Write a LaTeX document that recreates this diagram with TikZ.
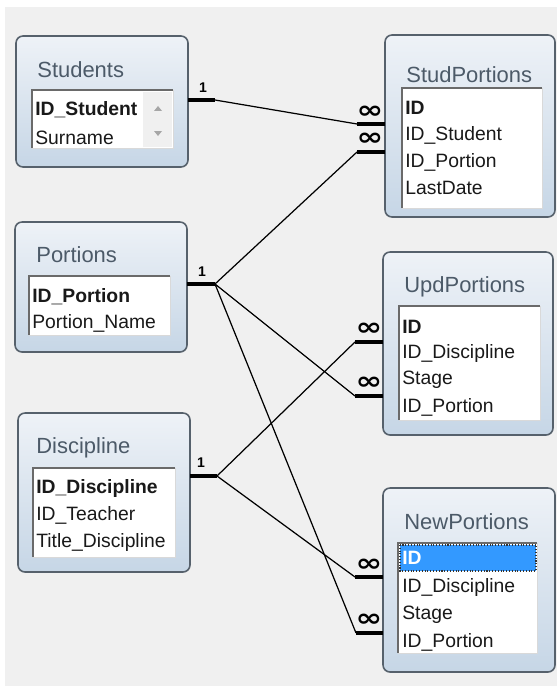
\documentclass[tikz,border=0pt]{standalone}
\usepackage{fontspec}
\setmainfont{Liberation Sans}
\newfontfamily\symfont{DejaVu Sans}
\definecolor{canvasgray}{HTML}{F0F0F0}
\definecolor{boxedge}{HTML}{56616C}
\definecolor{boxtop}{HTML}{EEF2F7}
\definecolor{boxbottom}{HTML}{C6D6E6}
\definecolor{titlegray}{HTML}{4C5A68}
\definecolor{listedge}{HTML}{6A6A6A}
\definecolor{selblue}{HTML}{3399FF}
\tikzset{
  tablebox/.style={draw=boxedge, line width=0.9pt, rounded corners=4pt, top color=boxtop, bottom color=boxbottom},
  listbox/.style={fill=white, draw=none},
  listrim/.style={draw=listedge, line width=1.2pt},
  title/.style={anchor=west, inner sep=0pt, text=titlegray, font=\fontsize{12.5}{14}\selectfont},
  field/.style={anchor=west, inner sep=0pt, text=black!90, font=\fontsize{11}{13}\selectfont},
  keyfield/.style={field, font=\fontsize{11}{13}\selectfont\bfseries},
  stub/.style={line width=2.4pt},
  link/.style={line width=0.7pt},
  one/.style={inner sep=0pt, font=\fontsize{8}{8}\selectfont\bfseries},
  many/.style={inner sep=0pt, xscale=1.3, font=\symfont\fontsize{14}{14}\selectfont\bfseries}
}
\begin{document}
\begin{tikzpicture}[x=0.02cm,y=-0.02cm]
\useasboundingbox (0,0) rectangle (557,686);
\fill[white] (0,0) rectangle (557,686);
\fill[canvasgray] (5,7) rectangle (557,686);
% Students
\draw[tablebox] (16,36) rectangle (188,167);
\node[title] (stu-title) at (37,70) {Students};
\fill[listbox] (32,90) rectangle (173,148);
\fill[gray!12] (143,92) rectangle (172,147);
\draw[listrim] (32,148) -- (32,90) -- (173,90);
\draw[gray!30] (173,90) -- (173,148) -- (32,148);
\node[keyfield] (stu-id) at (35,110) {ID\_Student};
\node[field] (stu-sur) at (35,138) {Surname};
\fill[gray!70] (154,111) -- (162,111) -- (158,106) -- cycle;
\fill[gray!70] (154,131) -- (162,131) -- (158,136) -- cycle;
% Portions
\draw[tablebox] (15,222) rectangle (187,352);
\node[title] (por-title) at (36,255) {Portions};
\fill[listbox] (29,276) rectangle (170,335);
\draw[listrim] (29,335) -- (29,276) -- (170,276);
\draw[gray!30] (170,276) -- (170,335) -- (29,335);
\node[keyfield] (por-id) at (32,297) {ID\_Portion};
\node[field] (por-name) at (32,323) {Portion\_Name};
% Discipline
\draw[tablebox] (18,413) rectangle (190,572);
\node[title] (dis-title) at (36,448) {Discipline};
\fill[listbox] (33,468) rectangle (175,557);
\draw[listrim] (33,557) -- (33,468) -- (175,468);
\draw[gray!30] (175,468) -- (175,557) -- (33,557);
\node[keyfield] (dis-id) at (36,488) {ID\_Discipline};
\node[field] (dis-teach) at (36,515) {ID\_Teacher};
\node[field] (dis-title2) at (36,542) {Title\_Discipline};
% StudPortions
\draw[tablebox] (385,35) rectangle (555,217);
\node[title] (sp-title) at (406,75) {StudPortions};
\fill[listbox] (402,88) rectangle (542,208);
\draw[listrim] (402,208) -- (402,88) -- (542,88);
\draw[gray!30] (542,88) -- (542,208) -- (402,208);
\node[keyfield] (sp-id) at (405,108) {ID};
\node[field] (sp-stud) at (405,135) {ID\_Student};
\node[field] (sp-por) at (405,162) {ID\_Portion};
\node[field] (sp-date) at (405,188) {LastDate};
% UpdPortions
\draw[tablebox] (383,252) rectangle (553,435);
\node[title] (up-title) at (404,287) {UpdPortions};
\fill[listbox] (399,306) rectangle (540,420);
\draw[listrim] (399,420) -- (399,306) -- (540,306);
\draw[gray!30] (540,306) -- (540,420) -- (399,420);
\node[keyfield] (up-id) at (402,327) {ID};
\node[field] (up-dis) at (402,353) {ID\_Discipline};
\node[field] (up-stage) at (402,380) {Stage};
\node[field] (up-por) at (402,407) {ID\_Portion};
% NewPortions
\draw[tablebox] (383,488) rectangle (555,672);
\node[title] (np-title) at (404,522) {NewPortions};
\fill[listbox] (398,543) rectangle (537,653);
\draw[listrim] (398,653) -- (398,543) -- (537,543);
\draw[gray!30] (537,543) -- (537,653) -- (398,653);
\fill[selblue] (400,545) rectangle (536,571);
\draw[black!80, densely dotted, line width=0.6pt] (400,545) rectangle (536,571);
\node[keyfield, text=white] (np-id) at (402,558) {ID};
\node[field] (np-dis) at (402,587) {ID\_Discipline};
\node[field] (np-stage) at (402,615) {Stage};
\node[field] (np-por) at (402,642) {ID\_Portion};
% relationship ends
\coordinate (stu-a) at (188,100); \coordinate (stu-b) at (215,100);
\coordinate (por-a) at (187,284); \coordinate (por-b) at (215,284);
\coordinate (dis-a) at (190,476); \coordinate (dis-b) at (217,476);
\coordinate (sp1-a) at (385,124); \coordinate (sp1-b) at (357,124);
\coordinate (sp2-a) at (385,152); \coordinate (sp2-b) at (357,152);
\coordinate (up1-a) at (383,342); \coordinate (up1-b) at (355,342);
\coordinate (up2-a) at (383,396); \coordinate (up2-b) at (355,396);
\coordinate (np1-a) at (383,577); \coordinate (np1-b) at (355,577);
\coordinate (np2-a) at (383,633); \coordinate (np2-b) at (356,633);
\foreach \e in {stu,por,dis,sp1,sp2,up1,up2,np1,np2}
  \draw[stub] (\e-a) -- (\e-b);
\node[one] (stu-one) at (203,88) {1};
\node[one] (por-one) at (202,272) {1};
\node[one] (dis-one) at (201,463) {1};
\node[many] (sp1-inf) at (370,112) {∞};
\node[many] (sp2-inf) at (370,139) {∞};
\node[many] (up1-inf) at (369,329) {∞};
\node[many] (up2-inf) at (369,383) {∞};
\node[many] (np1-inf) at (369,565) {∞};
\node[many] (np2-inf) at (369,620) {∞};
% relationships
\draw[link] (stu-b) -- (sp1-b);
\draw[link] (por-b) -- (sp2-b);
\draw[link] (por-b) -- (up2-b);
\draw[link] (por-b) -- (np2-b);
\draw[link] (dis-b) -- (up1-b);
\draw[link] (dis-b) -- (np1-b);
\end{tikzpicture}
\end{document}
